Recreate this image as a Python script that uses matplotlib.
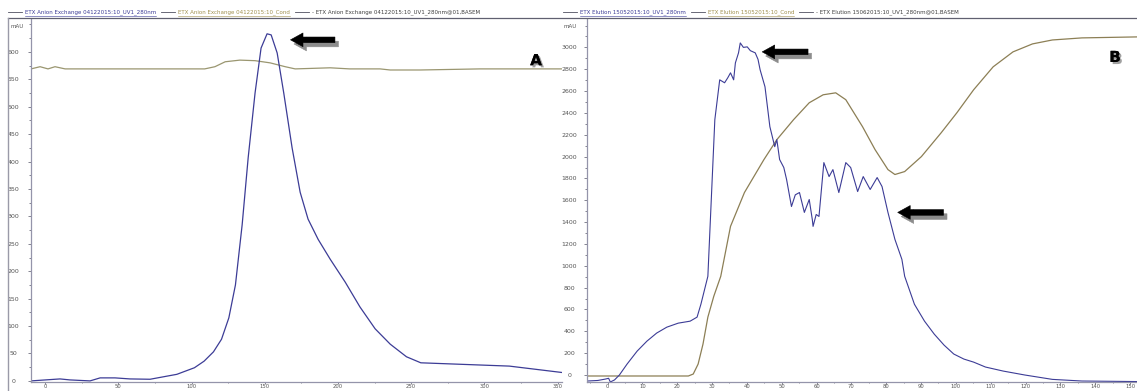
import matplotlib
matplotlib.use('Agg')
import matplotlib.pyplot as plt
import matplotlib.patheffects as pe
from matplotlib.lines import Line2D
from matplotlib.transforms import offset_copy
from matplotlib.ticker import MultipleLocator
import numpy as np

# ---- panel A : anion exchange (volume, mAU) ----
a_uv_x = [-9.6, 10.2, 17, 30.7, 37.6, 47.8, 58, 71.7, 90, 102, 108.6, 115, 120.5, 125.5,
          130, 134.6, 138.7, 143.4, 147.5, 151.6, 154.4, 158.5, 163, 168.7, 174.2, 179.6,
          186.5, 194.7, 205, 215, 225.4, 235.7, 246.8, 256.6, 317, 354]
a_uv_y = [0, 3.6, 1.8, 0, 5.5, 5.5, 3.6, 3, 12, 24, 36, 53, 76, 115,
          175, 285, 407, 525, 607, 633, 631, 598, 525, 425, 344, 295,
          258, 222, 180, 135, 95, 67, 44, 33, 27, 15]
a_cond_x = [-9.6, -3.4, 2, 6.8, 13.7, 37.6, 71.7, 109, 116, 123, 133, 143.4, 153.7,
            164, 170.8, 194.7, 208, 228.8, 235.7, 256, 297, 354]
a_cond_y = [569, 573, 569, 573, 569, 569, 569, 569, 573, 582, 585, 584, 580,
            573, 569, 571, 569, 569, 567, 567, 569, 569]

# ---- panel B : elution (volume, mAU) ----
b_uv_x = [-5.9, -2.8, -0.6, 0.3, 0.8, 2, 3.4, 5.6, 8.5, 11.3, 14.1, 17, 20.3, 23.7,
          25.7, 26.8, 28.8, 30.8, 32.2, 33.6, 34.5, 35.3, 36.2, 36.7, 37.6, 38.1, 39,
          40.1, 41, 42.4, 43.2, 43.8, 45.2, 46.6, 48, 48.6, 49.4, 50.6, 51.4, 52.8, 53.9,
          55.1, 56.5, 57.9, 58.8, 59, 59.9, 60.7, 62.1, 63.6, 64.7, 66.4, 68.4, 69.8,
          71.8, 73.4, 75.4, 77.4, 78.8, 80.5, 82.5, 84.5, 85.3, 88.1, 91, 93.8, 96.6,
          99.4, 102.3, 105.1, 108.5, 113.6, 119.8, 127.7, 136.2, 152]
b_uv_y = [-55, -50, -37, -30, -64, -45, 0, 100, 219, 310, 384, 438, 475, 493,
          530, 648, 904, 2338, 2703, 2676, 2721, 2767, 2703, 2858, 2950, 3041, 3000,
          3005, 2970, 2950, 2890, 2795, 2639, 2274, 2091, 2155, 1973, 1900, 1790, 1543, 1650,
          1671, 1489, 1607, 1420, 1361, 1470, 1452, 1945, 1817, 1881, 1671, 1945, 1900,
          1680, 1817, 1699, 1808, 1726, 1489, 1242, 1059, 904, 648, 493, 374, 274,
          192, 146, 118, 73, 36, 0, -40, -55, -60]
b_cond_x = [-5.9, 23.2, 24.6, 26, 27.4, 28.8, 30.5, 32.5, 35.3, 39.3, 44.9, 48.6, 53.4,
            57.9, 61.9, 65.5, 68.4, 73.2, 76.8, 80.5, 82.5, 85.3, 90.1, 95.8, 100.3,
            105.1, 110.7, 116.4, 122, 127.7, 136.2, 152]
b_cond_y = [-9, -9, 9, 100, 283, 530, 721, 904, 1361, 1671, 1973, 2155, 2338,
            2493, 2566, 2584, 2521, 2274, 2064, 1881, 1836, 1863, 2000, 2219, 2402,
            2612, 2822, 2959, 3032, 3068, 3087, 3096]

a_xticks = [0, 50, 100, 150, 200, 250, 300, 350]
a_yticks = list(range(0, 601, 50))
b_xticks = list(range(0, 151, 10))
b_yticks = list(range(0, 3001, 200))

hdr_a = ['ETX Anion Exchange 04122015:10_UV1_280nm', 'ETX Anion Exchange 04122015:10_Cond',
         '- ETX Anion Exchange 04122015:10_UV1_280nm@01,BASEM']
hdr_b = ['ETX Elution 15052015:10_UV1_280nm', 'ETX Elution 15052015:10_Cond',
         '- ETX Elution 15062015:10_UV1_280nm@01,BASEM']

UV = '#3c3c96'
COND_A = '#9a9670'
COND_B = '#8c7f55'
SPINE = '#9494aa'

W, H = 1137, 391
fig = plt.figure(figsize=(W / 100, H / 100), dpi=100)
fig.patch.set_facecolor('white')


def px_axes(l, t, r, b):
    return fig.add_axes([l / W, 1 - b / H, (r - l) / W, (b - t) / H])


def style(ax, xlim, ylim, xt, yt, xminor, yminor):
    ax.set_xlim(*xlim)
    ax.set_ylim(*ylim)
    for s in ['top', 'right']:
        ax.spines[s].set_visible(False)
    for s in ['left', 'bottom']:
        ax.spines[s].set_color(SPINE)
        ax.spines[s].set_linewidth(0.9)
    ax.set_xticks(xt)
    ax.set_yticks(yt)
    ax.xaxis.set_minor_locator(MultipleLocator(xminor))
    ax.yaxis.set_minor_locator(MultipleLocator(yminor))
    ax.tick_params(which='both', direction='out', color='#707080', width=0.6,
                   labelsize=4.5, labelcolor='#555555')
    ax.tick_params(which='major', length=2.2)
    ax.tick_params(which='minor', length=1.2)
    ax.tick_params(axis='y', pad=10.5)
    ax.tick_params(axis='x', which='major', length=1.4, pad=0.3, labelsize=3.8)
    ax.tick_params(axis='x', which='minor', length=1.0)
    for lab in ax.get_yticklabels():
        lab.set_horizontalalignment('center')


def block_arrow(ax, x, y, length=32):
    # gray drop shadow first, then the black arrow
    for dx, dy, col in [(2.5, -3.0, '#8c8c8c'), (0, 0, 'black')]:
        tr = offset_copy(ax.transData, fig=fig, x=dx, y=dy, units='points')
        ax.annotate('', xy=(x, y), xycoords=tr, xytext=(length, 0),
                    textcoords='offset points',
                    arrowprops=dict(arrowstyle='simple,head_length=1.0,head_width=1.1,tail_width=0.45',
                                    fc=col, ec=col, lw=0.4, shrinkA=0, shrinkB=0,
                                    mutation_scale=9),
                    annotation_clip=False)


# ---------------- panel A ----------------
axA = px_axes(31, 19, 562, 382)
axA.plot(a_cond_x, a_cond_y, color=COND_A, lw=0.9)
axA.plot(a_uv_x, a_uv_y, color=UV, lw=0.9)
style(axA, (-9.6, 353), (-2, 660), a_xticks, a_yticks, 25, 25)
ipk = int(np.argmax(a_uv_y))
block_arrow(axA, a_uv_x[ipk] + 16, a_uv_y[ipk] - 11)
axA.text(0.951, 0.885, 'A', transform=axA.transAxes, ha='center', va='center',
         fontsize=11, fontweight='black', color='black',
         path_effects=[pe.withSimplePatchShadow(offset=(1.5, -1.5), shadow_rgbFace='#888888', alpha=0.8),
                       pe.Normal()])

# ---------------- panel B ----------------
axB = px_axes(587, 19, 1137, 382)
axB.plot(b_cond_x, b_cond_y, color=COND_B, lw=0.9)
axB.plot(b_uv_x, b_uv_y, color=UV, lw=0.8)
style(axB, (-5.9, 152), (-64, 3260), b_xticks, b_yticks, 5, 100)
ipk = int(np.argmax(b_uv_y))
block_arrow(axB, b_uv_x[ipk] + 6.3, b_uv_y[ipk] - 82, length=33)
block_arrow(axB, 83.3, float(np.interp(83.3, b_uv_x, b_uv_y)) + 320, length=33)
axB.text(0.96, 0.894, 'B', transform=axB.transAxes, ha='center', va='center',
         fontsize=11, fontweight='black', color='black',
         path_effects=[pe.withSimplePatchShadow(offset=(1.5, -1.5), shadow_rgbFace='#888888', alpha=0.8),
                       pe.Normal()])

# ---------------- frame, unit labels, header ----------------
fig.add_artist(Line2D([8 / W, 1], [1 - 18 / H, 1 - 18 / H], color='#606070', lw=0.9))
fig.add_artist(Line2D([8 / W, 8 / W], [0, 1 - 18 / H], color='#9a9aa8', lw=1.0))
fig.text(10 / W, 1 - 26 / H, 'mAU', fontsize=4, color='#555555', va='center')
fig.text(563 / W, 1 - 26 / H, 'mAU', fontsize=4, color='#555555', va='center')

renderer = fig.canvas.get_renderer()


def header(x0, labels):
    colors = [UV, '#a09050', '#404040']
    x = x0
    yc = 1 - 12 / H
    for lab, col in zip(labels, colors):
        fig.add_artist(Line2D([x / W, (x + 14) / W], [yc, yc], color='#505060', lw=0.6))
        x += 17
        t = fig.text(x / W, yc, lab, fontsize=4, color=col, va='center')
        bb = t.get_window_extent(renderer)
        if col != '#404040':
            fig.add_artist(Line2D([x / W, (x + bb.width) / W], [yc - 3.5 / H, yc - 3.5 / H],
                                  color=col, lw=0.4))
        x += bb.width + 5


header(8, hdr_a)
header(563, hdr_b)

fig.savefig('out.png', dpi=100, facecolor='white')
